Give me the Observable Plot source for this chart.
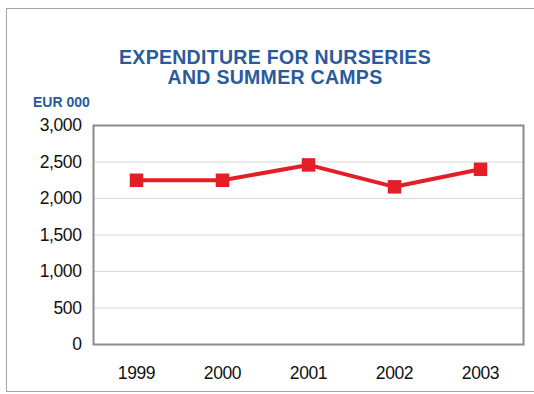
<!DOCTYPE html>
<html>
<head>
<meta charset="utf-8">
<script src="https://cdn.jsdelivr.net/npm/d3@7"></script>
<script src="https://cdn.jsdelivr.net/npm/@observablehq/plot@0.6"></script>
<style>
  html, body { margin: 0; padding: 0; background: #fff; }
  #wrap { position: relative; width: 534px; height: 394px; overflow: hidden; font-family: "Liberation Sans", Arial, sans-serif; }
  #outer { position: absolute; left: 6px; top: 8px; width: 545px; height: 382px; border: 1.5px solid #a3a3a3; }
  #title { position: absolute; left: 0; top: 47px; width: 550px; text-align: center; color: #2a5a9e; font-weight: bold; font-size: 19.5px; line-height: 20px; letter-spacing: 0.3px; }
  #unit { position: absolute; left: 33px; top: 95px; color: #2a5a9e; font-weight: bold; font-size: 14px; line-height: 14px; letter-spacing: 0px; }
  #chart { position: absolute; left: 0; top: 0; }
</style>
</head>
<body>
<div id="wrap">
  <div id="outer"></div>
  <div id="title">EXPENDITURE FOR NURSERIES<br>AND SUMMER CAMPS</div>
  <div id="unit">EUR 000</div>
  <div id="chart"></div>
</div>
<script>
const years = ["1999", "2000", "2001", "2002", "2003"];
const expenditure = [2250, 2250, 2460, 2160, 2400];
const yTicks = [0, 500, 1000, 1500, 2000, 2500, 3000];

const data = years.map((y, i) => ({year: y, value: expenditure[i]}));

const chart = Plot.plot({
  width: 534,
  height: 394,
  marginLeft: 93,
  marginRight: 11,
  marginTop: 125,
  marginBottom: 50,
  style: {fontFamily: "'Liberation Sans', Arial, sans-serif", fontSize: "17.5px", color: "#111", background: "transparent", letterSpacing: "-0.4px"},
  x: {type: "point", domain: years, padding: 0.5, label: null},
  y: {domain: [0, 3000], label: null},
  marks: [
    Plot.gridY(yTicks, {stroke: "#d8d8d8", strokeOpacity: 1, strokeWidth: 1}),
    Plot.frame({stroke: "#8a8a8a", strokeWidth: 2}),
    Plot.axisY(yTicks, {tickSize: 0, tickPadding: 12, tickFormat: d3.format(","), label: null}),
    Plot.axisX(years, {tickSize: 0, tickPadding: 22, label: null}),
    Plot.line(data, {x: "year", y: "value", stroke: "#e41e26", strokeWidth: 4}),
    Plot.dot(data, {x: "year", y: "value", symbol: "square", r: 7.6, fill: "#e41e26", stroke: "none"})
  ]
});
document.getElementById("chart").appendChild(chart);
</script>
</body>
</html>
